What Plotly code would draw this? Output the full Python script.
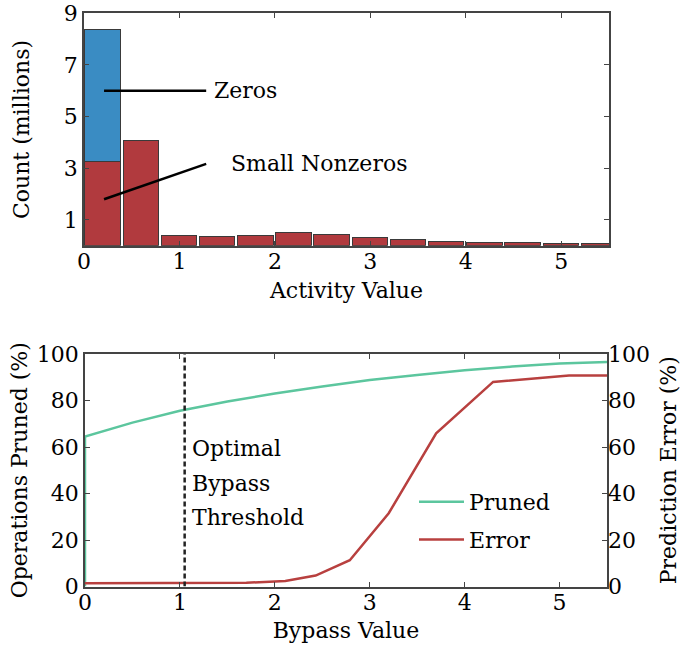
import plotly.graph_objects as go

# ---- Activity histogram (counts in millions, bins of width 0.4) ----
bin_centers = [0.2, 0.6, 1.0, 1.4, 1.8, 2.2, 2.6, 3.0, 3.4, 3.8, 4.2, 4.6, 5.0, 5.4]
nonzero_counts = [3.24, 4.05, 0.35, 0.33, 0.38, 0.47, 0.42, 0.30, 0.20, 0.15, 0.11, 0.08, 0.07, 0.06]
zero_bin = [0.2]
zero_counts = [5.10]
bin_width = 0.4

# ---- Bypass sweep ----
pruned_x = [0.0, 0.0, 0.5, 1.0, 1.5, 2.0, 2.5, 3.0, 3.5, 4.0, 4.5, 5.0, 5.5]
pruned_pct = [0.0, 64.5, 70.5, 75.6, 79.6, 83.0, 86.0, 88.8, 91.0, 93.0, 94.6, 95.9, 96.6]
error_x = [0.0, 1.0, 1.7, 2.11, 2.43, 2.79, 3.2, 3.7, 4.3, 5.1, 5.5]
error_pct = [1.4, 1.4, 1.6, 2.4, 4.7, 11.3, 31.5, 65.9, 88.0, 90.7, 90.7]
optimal_threshold = 1.05

FONT = "DejaVu Serif"
FS = 22
BLUE = "#3a8cc3"
RED_BAR = "#b13a3e"
GREEN = "#5cc69e"
RED_LINE = "#b8403f"
FRAME = "#444444"

fig = go.Figure()

fig.add_trace(go.Bar(
    x=bin_centers, y=nonzero_counts, width=bin_width * 0.93,
    marker=dict(color=RED_BAR, line=dict(color="#3a3a3a", width=1.2)),
    xaxis="x", yaxis="y", showlegend=False,
))
fig.add_trace(go.Bar(
    x=zero_bin, y=zero_counts, width=bin_width * 0.93,
    marker=dict(color=BLUE, line=dict(color="#3a3a3a", width=1.2)),
    xaxis="x", yaxis="y", showlegend=False,
))

fig.add_trace(go.Scatter(
    x=pruned_x, y=pruned_pct, mode="lines", name="Pruned",
    line=dict(color=GREEN, width=2.5), xaxis="x2", yaxis="y2",
    legendgroup="a",
))
fig.add_trace(go.Scatter(
    x=error_x, y=error_pct, mode="lines", name="Error",
    line=dict(color=RED_LINE, width=2.5), xaxis="x2", yaxis="y3",
    legendgroup="b",
))

tf = dict(family=FONT, size=FS, color="black")

axis_common = dict(
    showline=True, linecolor=FRAME, linewidth=1.8, mirror="ticks",
    ticks="inside", ticklen=5, tickcolor=FRAME, tickwidth=1,
    showgrid=False, zeroline=False, automargin=False,
    ticklabeloverflow="allow", tickfont=tf,
)

fig.update_layout(
    width=681, height=648,
    margin=dict(l=0, r=0, t=0, b=0),
    paper_bgcolor="white", plot_bgcolor="white",
    barmode="stack", bargap=0,
    font=tf,
    xaxis=dict(domain=[84 / 681, 609 / 681], range=[0, 5.5], anchor="y",
               tickvals=[0, 1, 2, 3, 4, 5], ticklabelstandoff=-5,
               title=dict(text="Activity Value", standoff=10, font=tf), **axis_common),
    yaxis=dict(domain=[1 - 245.8 / 648, 1 - 13.3 / 648], range=[0, 9], anchor="x",
               tickvals=[1, 3, 5, 7, 9],
               title=dict(text="Count (millions)", standoff=28, font=tf), **axis_common),
    xaxis2=dict(domain=[85 / 681, 607 / 681], range=[0, 5.5], anchor="y2",
                tickvals=[0, 1, 2, 3, 4, 5], ticklabelstandoff=-5,
                title=dict(text="Bypass Value", standoff=9, font=tf), **axis_common),
    yaxis2=dict(domain=[1 - 586.5 / 648, 1 - 354 / 648], range=[0, 100], anchor="x2",
                tickvals=[0, 20, 40, 60, 80, 100],
                title=dict(text="Operations Pruned (%)", standoff=3, font=tf), **axis_common),
    yaxis3=dict(range=[0, 100], overlaying="y2", side="right", anchor="x2",
                tickvals=[0, 20, 40, 60, 80, 100], automargin=False,
                showline=False, ticks="inside", ticklen=5, tickcolor=FRAME,
                showgrid=False, zeroline=False, tickfont=tf, ticklabeloverflow="allow",
                title=dict(text="Prediction Error (%)", standoff=12, font=tf)),
    legend=dict(x=414 / 681, y=1 - 481 / 648, xanchor="left", yanchor="top",
                bgcolor="rgba(0,0,0,0)", tracegroupgap=6, itemwidth=45, font=tf),
    showlegend=True,
)

# Threshold marker
fig.add_shape(type="line", xref="x2", yref="y2",
              x0=optimal_threshold, x1=optimal_threshold, y0=0, y1=100,
              line=dict(color="#222222", width=2.5, dash="5px,3px"))

for txt, yv in [("Optimal", 59.5), ("Bypass", 44.5), ("Threshold", 29.5)]:
    fig.add_annotation(x=1.11, y=yv, xref="x2", yref="y2", text=txt,
                       showarrow=False, xanchor="left", yanchor="middle", font=tf)

# Histogram callouts
fig.add_shape(type="line", xref="x", yref="y", x0=0.21, y0=6.0, x1=1.28, y1=6.0,
              line=dict(color="black", width=2.5))
fig.add_shape(type="line", xref="x", yref="y", x0=0.21, y0=1.8, x1=1.28, y1=3.17,
              line=dict(color="black", width=2.5))
fig.add_annotation(x=1.34, y=6.0, xref="x", yref="y", text="Zeros", showarrow=False,
                   xanchor="left", yanchor="middle", font=tf)
fig.add_annotation(x=1.52, y=3.17, xref="x", yref="y", text="Small Nonzeros",
                   showarrow=False, xanchor="left", yanchor="middle", font=tf)

fig.write_html("out.html")
